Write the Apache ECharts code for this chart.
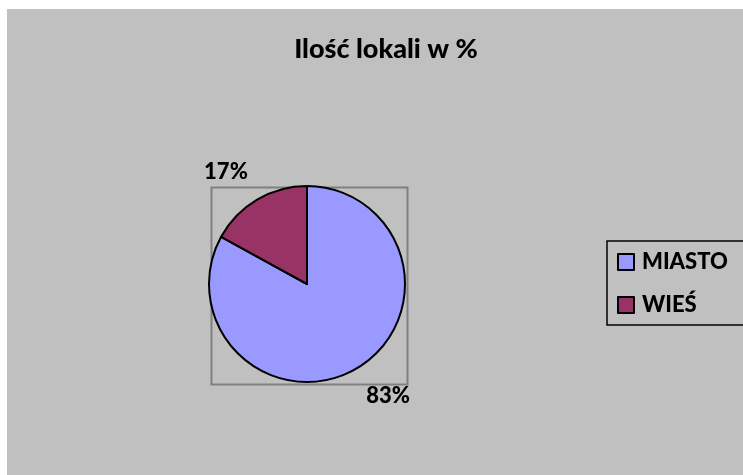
<!DOCTYPE html>
<html>
<head>
<meta charset="utf-8">
<script src="https://cdn.jsdelivr.net/npm/echarts@6/dist/echarts.min.js"></script>
<style>html,body{margin:0;padding:0;background:#fff;}#c{width:743px;height:475px;}</style>
</head>
<body>
<div id="c"></div>
<script>
var titleText = 'Ilość lokali w %';
var categories = ['MIASTO', 'WIEŚ'];
var values = [83, 17];
var colors = ['#9999FF', '#993366'];

var chart = echarts.init(document.getElementById('c'));
var FONT = 'Lato, "Noto Sans", sans-serif';
chart.setOption({
  backgroundColor: '#ffffff',
  animation: false,
  graphic: [
    { type: 'rect', left: 7, top: 9, shape: { width: 800, height: 500 }, style: { fill: '#C0C0C0' }, z: -10, silent: true },
    { type: 'rect', left: 209, top: 185, shape: { width: 196, height: 197 }, style: { fill: 'none', stroke: '#808080', lineWidth: 2 }, z: -5, silent: true }
  ],
  title: {
    text: titleText,
    left: 381,
    textAlign: 'center',
    top: 31,
    textStyle: { fontFamily: FONT, fontWeight: 900, fontSize: 27, color: '#000' }
  },
  legend: {
    orient: 'vertical',
    left: 607,
    top: 241,
    padding: [10, 60, 9, 10],
    borderColor: '#000',
    borderWidth: 1.5,
    itemWidth: 16,
    itemHeight: 16,
    itemGap: 21,
    icon: 'rect',
    data: categories,
    textStyle: { fontFamily: FONT, fontWeight: 900, fontSize: 22, color: '#000', padding: [0, 0, 0, 3] }
  },
  series: [{
    type: 'pie',
    center: [307, 284],
    radius: 98,
    startAngle: 90,
    clockwise: true,
    color: colors,
    itemStyle: { borderColor: '#000', borderWidth: 2 },
    label: {
      show: true,
      position: 'outside',
      formatter: '{d}%',
      fontFamily: FONT, fontWeight: 900, fontSize: 22, color: '#000'
    },
    labelLine: { show: false, length: 32, length2: 0 },
    labelLayout: function (p) { return { dx: p.align === 'left' ? -12 : 12 }; },
    emphasis: { disabled: true },
    data: categories.map(function (c, i) { return { name: c, value: values[i] }; })
  }]
});
</script>
</body>
</html>
